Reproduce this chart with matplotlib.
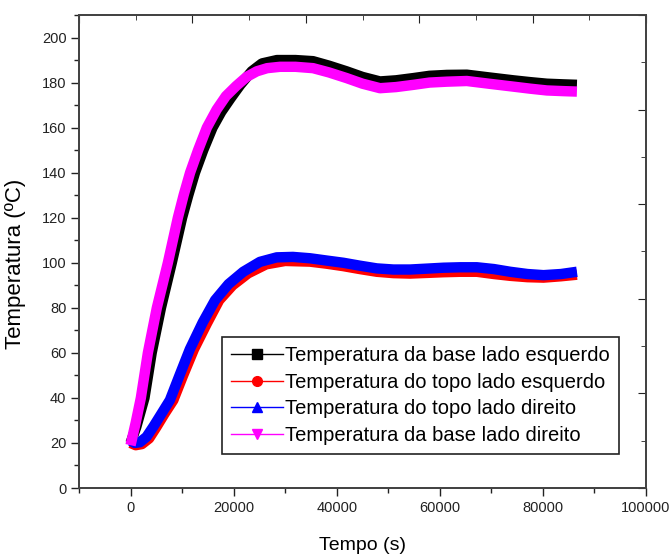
import matplotlib
matplotlib.use('Agg')
import matplotlib.pyplot as plt
from matplotlib.lines import Line2D
from matplotlib.ticker import MultipleLocator

plt.rcParams['font.family'] = ['Liberation Sans', 'DejaVu Sans']

# ---------------------- data ---------------------- #
t_base_esq = [0, 1100, 2700, 4100, 5900, 8000, 10000, 11200, 12500, 14100,
              15900, 17600, 19400, 21300, 23500, 25500, 28400, 32000, 35400,
              38500, 41900, 45000, 48400, 51500, 54900, 58000, 61360, 65240,
              69500, 74260, 77500, 80760, 84000, 86600]
T_base_esq = [20, 27, 40, 60, 80, 100, 120, 130, 140, 150,
              160, 167, 173, 179, 185, 188.5, 190, 190, 189.5,
              187.5, 185, 182.5, 180.5, 181, 182, 183, 183.4, 183.5,
              182.3, 181, 180.2, 179.5, 179.2, 179]

t_topo_esq = [0, 1000, 2200, 3600, 5000, 6600, 8300, 10200, 12300, 14800,
              17200, 19800, 22800, 26300, 30000, 34800, 38000, 41280, 44500,
              47770, 51000, 54230, 57500, 60700, 64000, 67180, 70500, 73650,
              77000, 80120, 83500, 86600]
T_topo_esq = [20, 19, 19.5, 22, 27, 33, 39, 50, 61.6, 73,
              83.4, 90, 95.3, 99.3, 100.8, 100.5, 99.6, 98.5, 97.2,
              96, 95.4, 95.2, 95.5, 95.8, 96, 96, 95, 94.2,
              93.6, 93.4, 94, 94.7]

t_topo_dir = [0, 800, 1800, 3100, 4500, 6000, 7630, 9500, 11500, 14000,
              16400, 19000, 21870, 25100, 28350, 31500, 34800, 38000, 41280,
              44500, 47770, 51000, 54230, 57500, 60700, 64000, 67180, 70500,
              73650, 77000, 80120, 83500, 86600]
T_topo_dir = [21, 20, 20.3, 22.7, 27.5, 33, 39, 50, 61.6, 73.5,
              83.4, 90.5, 96, 100.4, 102.4, 102.6, 102, 101, 100,
              98.7, 97.5, 97, 97, 97.4, 97.8, 98, 98, 97.2,
              96, 95, 94.5, 95, 96]

t_base_dir = [0, 1000, 2000, 3360, 5100, 7240, 9180, 10300, 11550, 13100,
              14800, 16700, 18500, 20500, 22500, 24500, 26500, 29000, 32000,
              35400, 38500, 41900, 45000, 48400, 51500, 54900, 58000, 61360,
              65240, 69500, 74260, 77500, 80760, 84000, 86600]
T_base_dir = [19, 29, 40, 60, 80, 100, 120, 130, 140, 150,
              160, 168, 174, 178.5, 182.5, 185, 186.4, 187, 187,
              186.4, 184.5, 182, 179.5, 177.5, 178, 179, 180, 180.4,
              180.7, 179.5, 178.2, 177.3, 176.5, 176.2, 176]

labels = ['Temperatura da base lado esquerdo',
          'Temperatura do topo lado esquerdo',
          'Temperatura do topo lado direito',
          'Temperatura da base lado direito']
colors = ['#000000', '#ff0000', '#0000ff', '#ff00ff']
markers = ['s', 'o', '^', 'v']

# ---------------------- plot ---------------------- #
fig = plt.figure(figsize=(6.72, 5.57), dpi=100)
ax = fig.add_axes([79 / 672, 1 - 488 / 557, 567 / 672, 473 / 557])

series = [(t_base_esq, T_base_esq), (t_topo_esq, T_topo_esq),
          (t_topo_dir, T_topo_dir), (t_base_dir, T_base_dir)]
for (t, T), c in zip(series, colors):
    ax.plot(t, T, color=c, linewidth=7.5, solid_joinstyle='round',
            solid_capstyle='butt')

ax.set_xlim(-10000, 100000)
ax.set_ylim(0, 210)
ax.set_xticks([0, 20000, 40000, 60000, 80000, 100000])
ax.xaxis.set_minor_locator(MultipleLocator(10000))
ax.yaxis.set_major_locator(MultipleLocator(20))
ax.yaxis.set_minor_locator(MultipleLocator(10))
ax.tick_params(which='major', direction='out', length=6, width=1,
               labelsize=10.5, colors='#222222', pad=3)
ax.tick_params(which='minor', direction='out', length=3.5, width=1,
               colors='#222222')
for s in ax.spines.values():
    s.set_color('#444444')
    s.set_linewidth(1.2)

ax.set_xlabel('Tempo (s)', fontsize=14)
ax.xaxis.set_label_coords(0.5, -0.103)
ax.set_ylabel('Temperatura (ºC)', fontsize=16)
ax.yaxis.set_label_coords(-0.094, 0.474)

# top / right axes with inward ticks only
top = ax.twiny()
top.set_xlim(0, 1)
top.xaxis.set_major_locator(MultipleLocator(0.2))
top.xaxis.set_minor_locator(MultipleLocator(0.1))
top.tick_params(axis='x', which='major', direction='in', length=6,
                labeltop=False, colors='#222222')
top.tick_params(axis='x', which='minor', direction='in', length=3.5,
                colors='#222222')
right = ax.twinx()
right.set_ylim(0, 1)
right.yaxis.set_major_locator(MultipleLocator(0.2))
right.yaxis.set_minor_locator(MultipleLocator(0.1))
right.tick_params(axis='y', which='major', direction='in', length=6,
                  labelright=False, colors='#222222')
right.tick_params(axis='y', which='minor', direction='in', length=3.5,
                  colors='#222222')
for a in (top, right):
    for s in a.spines.values():
        s.set_color('#444444')
        s.set_linewidth(1.2)

handles = [Line2D([], [], color=c, marker=m, markersize=7, linewidth=1)
           for c, m in zip(colors, markers)]
leg = right.legend(handles, labels, loc='upper left',
                   bbox_to_anchor=(0.252, 0.319), borderaxespad=0,
                   fontsize=14.5, handlelength=2.6, handletextpad=0.08,
                   labelspacing=0.38, borderpad=0.45, fancybox=False,
                   framealpha=1, edgecolor='#222222')
leg.get_frame().set_linewidth(1.2)

fig.savefig('out.png', dpi=100)
